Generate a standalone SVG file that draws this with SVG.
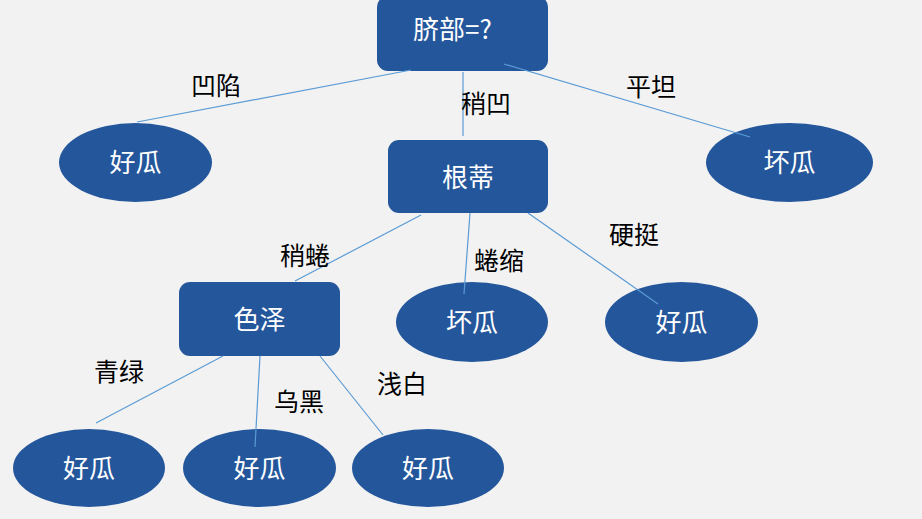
<svg xmlns="http://www.w3.org/2000/svg" width="922" height="519" viewBox="0 0 922 519">
<style>
.box{fill:#24569B;}
.nt{fill:#FFFFFF;font-family:"Noto Sans CJK SC","Microsoft YaHei",sans-serif;font-size:26px;text-anchor:middle;}
.lb{fill:#000000;font-family:"Noto Sans CJK SC","Microsoft YaHei",sans-serif;font-size:25px;text-anchor:middle;}
.cn{stroke:#5B9BD5;stroke-width:1.2;fill:none;}
</style>
<rect width="922" height="519" fill="#F2F2F2"/>
<g id="root"><rect class="box" x="377" y="-4" width="171" height="75" rx="11"/><text class="nt" x="413" y="39" style="text-anchor:start">脐部=?</text></g>
<g id="gendi"><rect class="box" x="388" y="140" width="160" height="73" rx="11"/><text class="nt" x="468" y="186.5">根蒂</text></g>
<g id="seze"><rect class="box" x="179" y="282" width="161" height="74" rx="11"/><text class="nt" x="259.5" y="328.5">色泽</text></g>
<g id="leaf1"><ellipse class="box" cx="135.5" cy="162.5" rx="76.5" ry="39.5"/><text class="nt" x="135.5" y="172">好瓜</text></g>
<g id="leaf2"><ellipse class="box" cx="789.5" cy="162.5" rx="83.5" ry="39.5"/><text class="nt" x="789.5" y="172">坏瓜</text></g>
<g id="leaf3"><ellipse class="box" cx="472" cy="322" rx="76" ry="40"/><text class="nt" x="472" y="331.5">坏瓜</text></g>
<g id="leaf4"><ellipse class="box" cx="681.5" cy="322" rx="76.5" ry="40"/><text class="nt" x="681.5" y="331.5">好瓜</text></g>
<g id="leaf5"><ellipse class="box" cx="89" cy="468" rx="76" ry="39"/><text class="nt" x="89" y="477.5">好瓜</text></g>
<g id="leaf6"><ellipse class="box" cx="259.5" cy="468" rx="76.5" ry="39"/><text class="nt" x="259.5" y="477.5">好瓜</text></g>
<g id="leaf7"><ellipse class="box" cx="428" cy="468" rx="76" ry="39"/><text class="nt" x="428" y="477.5">好瓜</text></g>
<g id="connectors">
<line class="cn" x1="411" y1="70" x2="137" y2="122"/>
<line class="cn" x1="463" y1="72" x2="463" y2="136"/>
<line class="cn" x1="504" y1="64" x2="750" y2="137"/>
<line class="cn" x1="421" y1="215" x2="295" y2="281"/>
<line class="cn" x1="470" y1="213" x2="464" y2="294"/>
<line class="cn" x1="528" y1="213" x2="658" y2="304"/>
<line class="cn" x1="223" y1="356" x2="96" y2="423"/>
<line class="cn" x1="260" y1="356" x2="255" y2="447"/>
<line class="cn" x1="320" y1="356" x2="383" y2="435"/>
</g>
<g id="labels">
<text class="lb" x="216" y="94.5">凹陷</text>
<text class="lb" x="486" y="112.5">稍凹</text>
<text class="lb" x="651" y="95.5">平坦</text>
<text class="lb" x="305" y="264.5">稍蜷</text>
<text class="lb" x="499" y="269.5">蜷缩</text>
<text class="lb" x="634" y="243.5">硬挺</text>
<text class="lb" x="119" y="380.5">青绿</text>
<text class="lb" x="299" y="410.5">乌黑</text>
<text class="lb" x="402" y="392.5">浅白</text>
</g>
</svg>
